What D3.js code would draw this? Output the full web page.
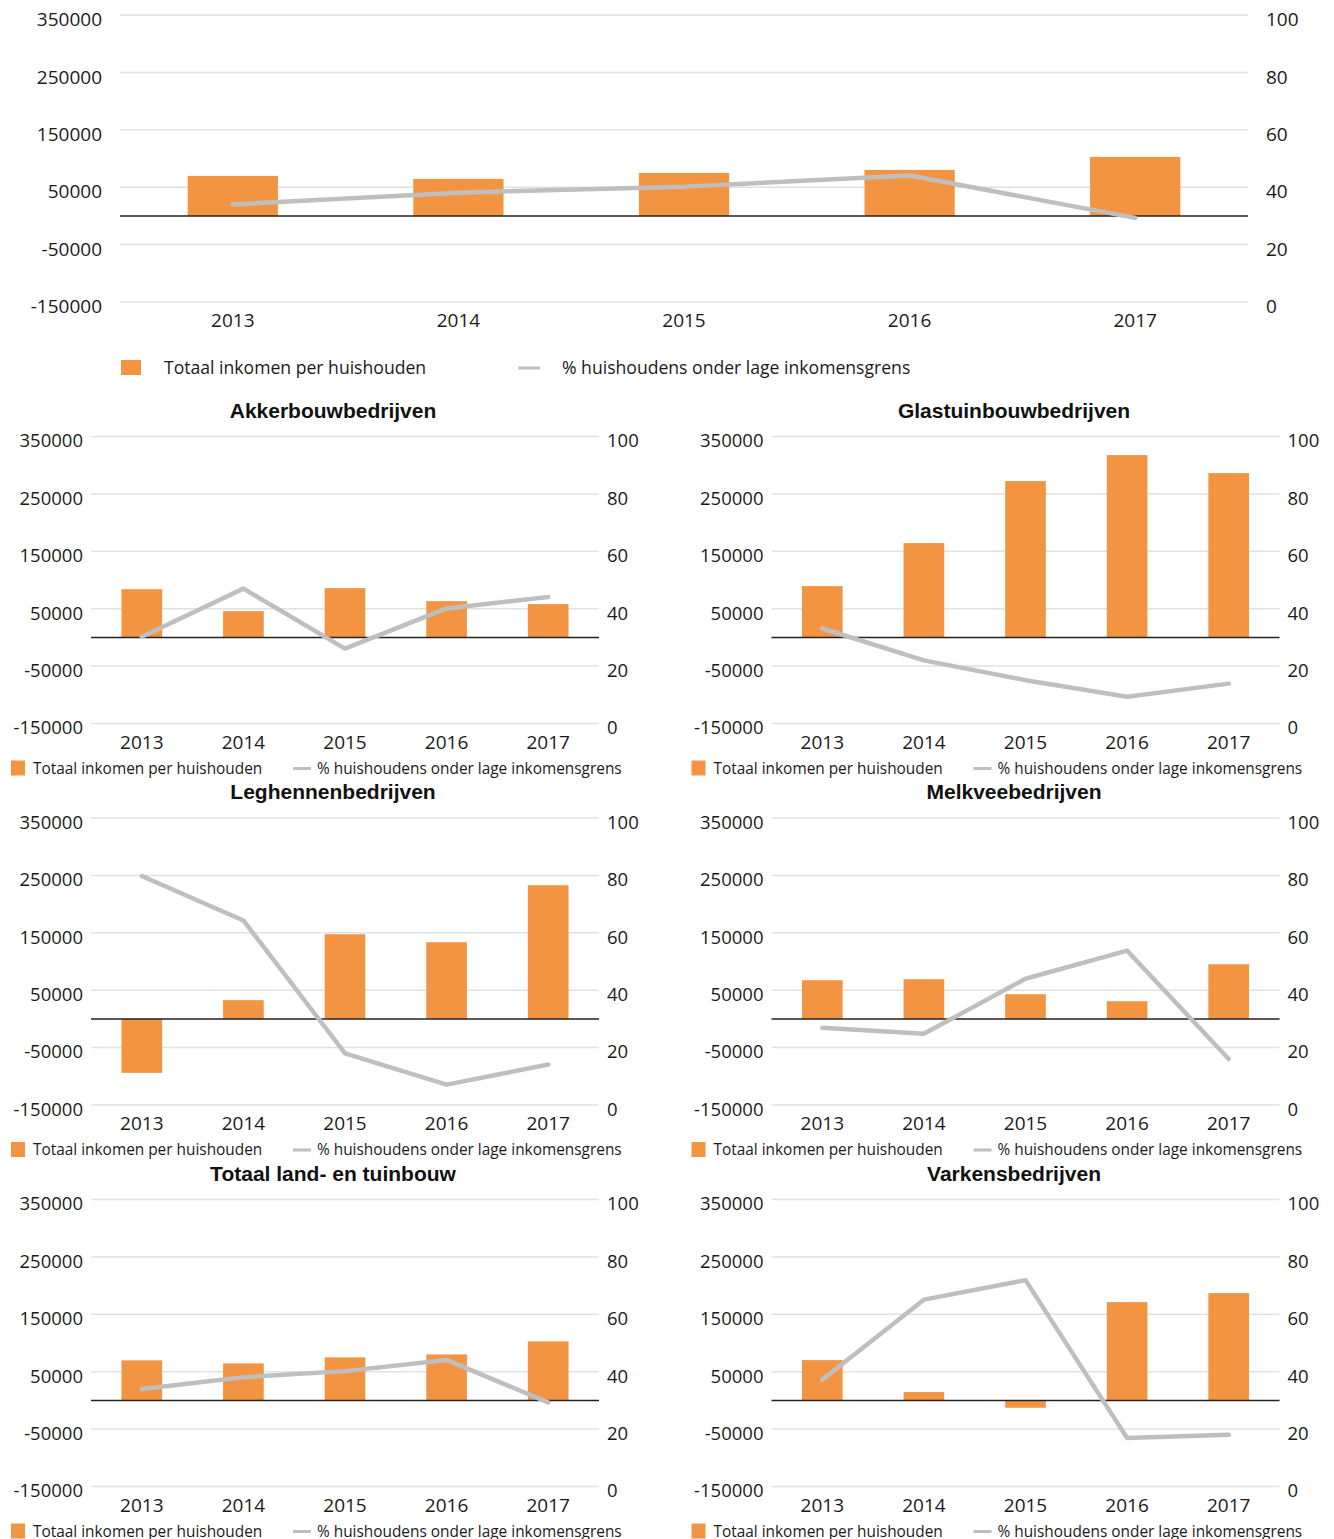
<!DOCTYPE html>
<html><head><meta charset="utf-8">
<script src="https://cdn.jsdelivr.net/npm/d3@7"></script>
<style>
html,body{margin:0;padding:0;background:#fff;}
svg{display:block;font-family:"Open Sans",sans-serif;}
</style></head>
<body>
<svg id="chart" width="1334" height="1539"></svg>
<script>
// ---- data ----
const years = ["2013","2014","2015","2016","2017"];
const leftTicks = [-150000,-50000,50000,150000,250000,350000];
const rightTicks = [0,20,40,60,80,100];
const legendBar = "Totaal inkomen per huishouden";
const legendLine = "% huishoudens onder lage inkomensgrens";

const panelTitles = ["Akkerbouwbedrijven","Glastuinbouwbedrijven","Leghennenbedrijven","Melkveebedrijven","Totaal land- en tuinbouw","Varkensbedrijven"];

const incomeTotaal = [69700, 64500, 74900, 80100, 102800];
const pctTotaal    = [34.0, 38.1, 40.2, 44.1, 29.3];

const incomeAkkerbouw = [84000, 45800, 85900, 63200, 58000];
const pctAkkerbouw    = [30.2, 47.0, 26.1, 40.1, 44.1];

const incomeGlastuinbouw = [89400, 164300, 272300, 317600, 286200];
const pctGlastuinbouw    = [33.1, 22.0, 15.1, 9.3, 13.9];

const incomeLeghennen = [-94000, 32600, 147500, 133600, 232900];
const pctLeghennen    = [79.8, 64.3, 18.0, 7.1, 14.1];

const incomeMelkvee = [67400, 69200, 43000, 30800, 95300];
const pctMelkvee    = [26.9, 24.8, 44.0, 53.8, 16.0];

const incomeVarkens = [70200, 14500, -12800, 171200, 186900];
const pctVarkens    = [37.2, 65.1, 71.9, 16.9, 18.0];

const panelIncome = [incomeAkkerbouw, incomeGlastuinbouw, incomeLeghennen, incomeMelkvee, incomeTotaal, incomeVarkens];
const panelPct = [pctAkkerbouw, pctGlastuinbouw, pctLeghennen, pctMelkvee, pctTotaal, pctVarkens];

// ---- drawing ----
const svg = d3.select("#chart");
const ORANGE = "#f39443", GREY = "#bfbfbf", GRID = "#e1e1e1", TXT = "#1a1a1a";

function drawPanel(g, cfg, income, pct) {
  const x = d3.scaleBand().domain(years).range([cfg.x0, cfg.x1]).paddingInner(0.6).paddingOuter(0.3);
  const xc = d => x(d) + x.bandwidth()/2;
  const y = d3.scaleLinear().domain([-150000, 350000]).range([cfg.y1, cfg.y0]);
  const y2 = d3.scaleLinear().domain([0, 100]).range([cfg.y1, cfg.y0]);

  // gridlines
  g.append("g").selectAll("line").data(leftTicks).join("line")
    .attr("x1", cfg.x0).attr("x2", cfg.x1)
    .attr("y1", d => y(d)).attr("y2", d => y(d))
    .attr("stroke", GRID).attr("stroke-width", 1.5);

  // left axis
  const la = d3.axisLeft(y).tickValues(leftTicks).tickSize(0).tickPadding(0).tickFormat(d => String(d));
  const lg = g.append("g").attr("transform", `translate(${cfg.lx},0)`).call(la);
  lg.select(".domain").remove();
  lg.selectAll("text").attr("fill", TXT).attr("font-size", cfg.fs).attr("font-family", '"Open Sans",sans-serif')
    .attr("dy", "0.56em").attr("y", 0);

  // right axis
  const ra = d3.axisRight(y2).tickValues(rightTicks).tickSize(0).tickPadding(0);
  const rg = g.append("g").attr("transform", `translate(${cfg.rx},0)`).call(ra);
  rg.select(".domain").remove();
  rg.selectAll("text").attr("fill", TXT).attr("font-size", cfg.fs).attr("font-family", '"Open Sans",sans-serif')
    .attr("dy", "0.56em").attr("text-anchor", "start");

  // bars
  g.append("g").selectAll("rect").data(years).join("rect")
    .attr("x", d => x(d))
    .attr("width", x.bandwidth())
    .attr("y", (d,i) => Math.min(y(0), y(income[i])))
    .attr("height", (d,i) => Math.abs(y(income[i]) - y(0)))
    .attr("fill", ORANGE);

  // zero line
  g.append("line").attr("x1", cfg.x0).attr("x2", cfg.x1)
    .attr("y1", y(0)).attr("y2", y(0)).attr("stroke", "#222").attr("stroke-width", 1.5);

  // line
  const line = d3.line().x((d,i) => xc(years[i])).y(d => y2(d));
  g.append("path").datum(pct).attr("d", line)
    .attr("fill", "none").attr("stroke", GREY).attr("stroke-width", 4.5)
    .attr("stroke-linejoin", "round").attr("stroke-linecap", "round");

  // x labels
  g.append("g").selectAll("text").data(years).join("text")
    .attr("x", d => xc(d)).attr("y", cfg.y1 + 25)
    .attr("text-anchor", "middle").attr("font-size", cfg.fsYear).attr("fill", TXT).text(d => d);

  // title
  if (cfg.title) {
    g.append("text").attr("x", cfg.tx).attr("y", cfg.y0 - 19)
      .attr("text-anchor", "middle").attr("font-family", '"Liberation Sans",Arial,sans-serif')
      .attr("font-weight", "bold").attr("font-size", 21).attr("fill", "#111").text(cfg.title);
  }

  // legend
  const L = cfg.leg;
  g.append("rect").attr("x", L.sx).attr("y", L.sy).attr("width", L.sw).attr("height", L.sh).attr("fill", ORANGE);
  g.append("text").attr("x", L.tx).attr("y", L.ty).attr("font-size", L.fs).attr("fill", TXT).text(legendBar);
  g.append("line").attr("x1", L.lx0).attr("x2", L.lx1).attr("y1", L.ly).attr("y2", L.ly)
    .attr("stroke", GREY).attr("stroke-width", 3);
  g.append("text").attr("x", L.t2x).attr("y", L.ty).attr("font-size", L.fs).attr("fill", TXT).text(legendLine);
}

// top panel
drawPanel(svg.append("g"), {
  x0: 120, x1: 1248, y0: 15, y1: 302, lx: 102, rx: 1266, fs: 19, fsYear: 19,
  leg: {sx: 121, sy: 360, sw: 20, sh: 15, tx: 164, ty: 374, fs: 17.6, lx0: 518, lx1: 540, ly: 368, t2x: 562}
}, incomeTotaal, pctTotaal);

// small panels
const rowTop = [436.5, 818, 1199.5];
panelTitles.forEach((t, k) => {
  const r = Math.floor(k/2), c = k % 2;
  const y0 = rowTop[r], y1 = y0 + 287;
  const off = c === 0 ? 0 : 680.5;
  drawPanel(svg.append("g"), {
    x0: 91 + off, x1: 599 + off, y0, y1, lx: 83 + off, rx: 607 + off, fs: 18.5, fsYear: 19,
    title: t, tx: 333 + c*681,
    leg: {sx: 11 + off, sy: y1 + 37, sw: 14, sh: 15, tx: 33 + off, ty: y1 + 50, fs: 15.4,
          lx0: 293 + off, lx1: 311 + off, ly: y1 + 45, t2x: 317 + off}
  }, panelIncome[k], panelPct[k]);
});
</script>
</body></html>
